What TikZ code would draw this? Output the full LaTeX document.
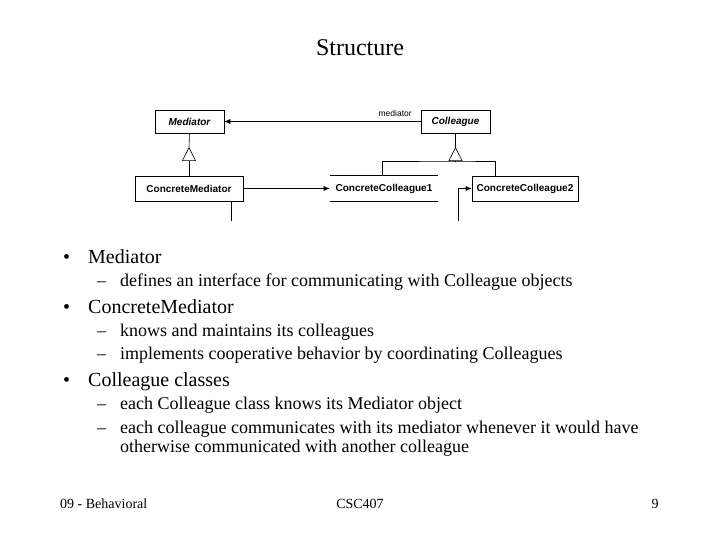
\documentclass[tikz,border=0pt]{standalone}
\usepackage{fontspec}
\setmainfont{Liberation Serif}
\setsansfont{Liberation Sans}
\usepackage{tikz}
\usetikzlibrary{
  arrows.meta,
  positioning,
  calc
}

\begin{document}
\begin{tikzpicture}[
        x=1pt, y=-1pt,
        >={Latex[length=6pt,width=5pt]},
        umlbox/.style={draw, line width=0.6pt, inner sep=0pt, font=\sffamily\bfseries\fontsize{10}{11}\selectfont},
        umlabs/.style={umlbox, font=\sffamily\bfseries\itshape\fontsize{10}{11}\selectfont},
        inherit/.style={-{Triangle[open,length=14pt,width=14pt]}, line width=0.6pt},
        link/.style={->, line width=0.6pt},
        item/.style={anchor=base west, inner sep=0pt, font=\fontsize{20}{24}\selectfont},
        subitem/.style={anchor=base west, inner sep=0pt, font=\fontsize{18}{20}\selectfont},
        foot/.style={anchor=base, inner sep=0pt, font=\fontsize{14}{16}\selectfont}
    ]
        \useasboundingbox (0,0) rectangle (720,540);
        \node[anchor=base, font=\fontsize{24}{28}\selectfont] (title) at (360,56) {Structure};

        % Klassen
        \node[umlabs, minimum width=69pt, minimum height=23pt] (med) at (189.5,121.5) {Mediator};
        \node[umlabs, minimum width=69pt, minimum height=23pt] (col) at (455.5,121.5) {Colleague};
        \node[umlbox, minimum width=108pt, minimum height=25pt] (cmed) at (189,188.5) {ConcreteMediator};
        \node[umlbox, draw=none, minimum width=108pt, minimum height=25pt] (cc1) at (384,188.5) {ConcreteColleague1};
        \node[umlbox, minimum width=106pt, minimum height=25pt] (cc2) at (525,188.5) {ConcreteColleague2};
        \draw[line width=0.6pt] (cc1.north west) -- (cc1.north east) (cc1.south west) -- (cc1.south east);

        % mediator reference
        \draw[link] (col.west) -- (med.east)
            node[pos=0.13, above=1pt, font=\sffamily\fontsize{8.5}{9}\selectfont] (lbl) {mediator};

        % inheritance Mediator
        \coordinate (mtip) at (189,147);
        \draw[inherit] (cmed.north) -- (mtip);
        \draw[line width=0.6pt] (mtip) -- (med.south);

        % inheritance Colleague
        \coordinate (hub) at (455.5,161);
        \coordinate (ctip) at (455.5,147);
        \coordinate (c1top) at (382,176);
        \coordinate (c2top) at (495,176);
        \draw[inherit] (hub) -- (ctip);
        \draw[line width=0.6pt] (ctip) -- (col.south);
        \draw[line width=0.6pt] (c1top) |- (hub) -| (c2top);

        % associations
        \draw[link] (cmed.east) -- (cc1.west);
        \coordinate (cmtail) at (231,221);
        \draw[line width=0.6pt] (cmtail) -- (cmtail |- cmed.south);
        \coordinate (c2tail) at (458,221);
        \draw[link] (c2tail) |- (cc2.west);

        % Text
        \node[item] (d1) at (63,263) {•};
        \node[item] (b1) at (88,263) {Mediator};
        \node[subitem] (e1) at (97,286) {–};
        \node[subitem] (s1) at (120,286) {defines an interface for communicating with Colleague objects};
        \node[item] (d2) at (63,313) {•};
        \node[item] (b2) at (88,313) {ConcreteMediator};
        \node[subitem] (e2) at (97,336) {–};
        \node[subitem] (s2) at (120,336) {knows and maintains its colleagues};
        \node[subitem] (e3) at (97,359) {–};
        \node[subitem] (s3) at (120,359) {implements cooperative behavior by coordinating Colleagues};
        \node[item] (d3) at (63,386) {•};
        \node[item] (b3) at (88,386) {Colleague classes};
        \node[subitem] (e4) at (97,409) {–};
        \node[subitem] (s4) at (120,409) {each Colleague class knows its Mediator object};
        \node[subitem] (e5) at (97,433) {–};
        \node[subitem] (s5) at (120,433) {each colleague communicates with its mediator whenever it would have};
        \node[subitem] (s5b) at (120,452) {otherwise communicated with another colleague};

        % footer
        \node[foot, anchor=base west] (fl) at (60,508) {09 - Behavioral};
        \node[foot] (fc) at (360,508) {CSC407};
        \node[foot] (fr) at (655,508) {9};
    \end{tikzpicture}
\end{document}
